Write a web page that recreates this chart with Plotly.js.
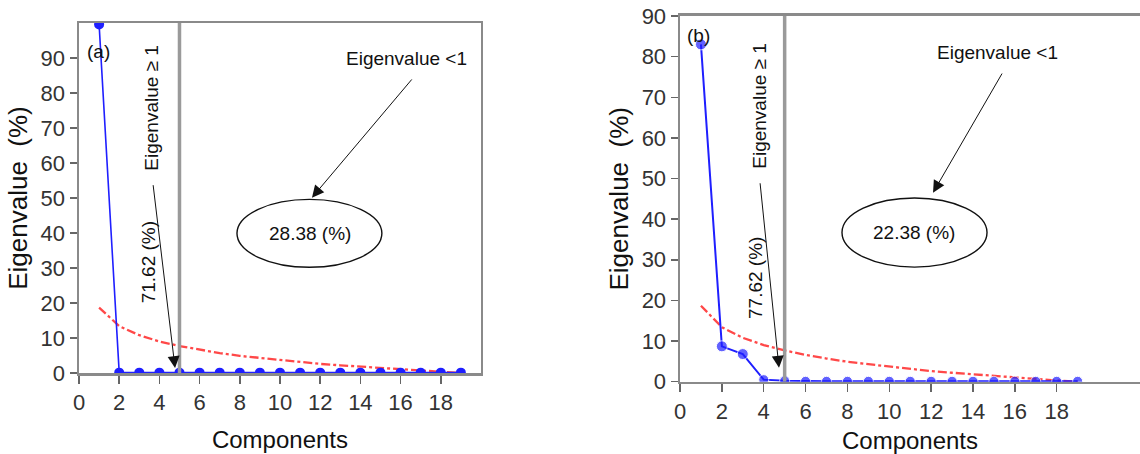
<!DOCTYPE html>
<html>
<head>
<meta charset="utf-8">
<script src="https://cdn.plot.ly/plotly-3.0.1.min.js"></script>
<style>html,body{margin:0;padding:0;background:#fff;}#chart{width:1140px;height:454px;}</style>
</head>
<body>
<div id="chart"></div>
<script>
// Data
const components = [1,2,3,4,5,6,7,8,9,10,11,12,13,14,15,16,17,18,19];
const eigenA = [99.6,0.1,0.1,0.1,0.1,0.1,0.1,0.1,0.1,0.1,0.1,0.1,0.1,0.1,0.1,0.1,0.1,0.1,0.1];
const eigenB = [83.0,8.7,6.8,0.5,0.2,0.1,0.1,0.1,0.1,0.1,0.1,0.1,0.1,0.1,0.1,0.1,0.1,0.1,0.1];
const brokenStick = [18.7,13.4,10.8,9.0,7.7,6.6,5.7,4.9,4.3,3.7,3.1,2.6,2.2,1.8,1.4,1.0,0.6,0.3,0.0];
const xTicks = [0,2,4,6,8,10,12,14,16,18];
const yTicks = [0,10,20,30,40,50,60,70,80,90];
const labelA = {panel:'(a)', kept:'71.62 (%)', dropped:'28.38 (%)'};
const labelB = {panel:'(b)', kept:'77.62 (%)', dropped:'22.38 (%)'};
const cutoff = 5;

const FONT = 'Liberation Sans, Arial, sans-serif';
const BLUE = '#1f1fff';
const RED = 'rgba(255,40,40,0.85)';
const GRAY = '#8a8a8a';

const traces = [
  {x: components, y: brokenStick, xaxis:'x', yaxis:'y', mode:'lines',
   line:{color:RED, width:2.3, dash:'dashdot'}, hoverinfo:'skip'},
  {x: components, y: eigenA, xaxis:'x', yaxis:'y', mode:'lines+markers', cliponaxis:true,
   line:{color:BLUE, width:1.6}, marker:{color:BLUE, size:10}},
  {x: components, y: brokenStick, xaxis:'x2', yaxis:'y2', mode:'lines',
   line:{color:RED, width:2.3, dash:'dashdot'}, hoverinfo:'skip'},
  {x: components, y: eigenB, xaxis:'x2', yaxis:'y2', mode:'lines+markers', cliponaxis:true,
   line:{color:BLUE, width:2},
   marker:{color:BLUE, size: eigenB.map((v,i)=> i<3 ? 11 : 10)}}
];

function xax(domain, range){
  return {domain: domain, range: range, tickvals: xTicks, ticks:'outside', ticklen:8, tickwidth:1.5,
    tickcolor:'#666', showline:true, linecolor:GRAY, linewidth:2.5, mirror:true,
    showgrid:false, zeroline:false, tickfont:{family:FONT, size:22, color:'#333'},
    title:{text:'Components', font:{family:FONT, size:24, color:'#111'}, standoff:18}};
}
function yax(domain, range, anchor, mirror){
  return {domain: domain, range: range, anchor: anchor, tickvals: yTicks, ticks:'outside', ticklen:7, tickwidth:1.5,
    tickcolor:'#666', showline:true, linecolor:GRAY, linewidth:2.5, mirror:mirror,
    showgrid:false, zeroline:false, tickfont:{family:FONT, size:22, color:'#333'},
    title:{text:'Eigenvalue  (%)', font:{family:FONT, size:26, color:'#111'}, standoff:6}};
}

const xa = xax([0.0693, 0.4219], [0, 20]); xa.anchor = 'y';
const xb = xax([0.5965, 1], [0, 21.98]); xb.anchor = 'y2';

function txt(xr, yr, x, y, text, angle){
  return {xref:xr, yref:yr, x:x, y:y, text:text, showarrow:false, textangle:angle||0,
    font:{family:FONT, size:19, color:'#111'}, xanchor:'center', yanchor:'middle'};
}
function arrow(xr, yr, x, y, ax, ay){
  return {xref:xr, yref:yr, axref:xr, ayref:yr, x:x, y:y, ax:ax, ay:ay, text:'',
    showarrow:true, arrowhead:2, arrowsize:2.4, arrowwidth:1, arrowcolor:'#111', standoff:0, startstandoff:0};
}

const annotations = [
  txt('x','y',0.95,92.0,labelA.panel),
  txt('x','y',3.63,75.8,'Eigenvalue ≥ 1',-90),
  txt('x','y',3.43,31.6,labelA.kept,-90),
  arrow('x','y',4.78,1.4,3.68,54.1),
  txt('x','y',16.27,90.0,'Eigenvalue <1'),
  arrow('x','y',11.59,50.1,16.62,84.3),
  txt('x','y',11.49,39.9,labelA.dropped),

  txt('x2','y2',0.86,85.3,labelB.panel),
  txt('x2','y2',3.82,67.9,'Eigenvalue ≥ 1',-90),
  txt('x2','y2',3.58,25.5,labelB.kept,-90),
  arrow('x2','y2',4.73,3.4,3.82,49.2),
  txt('x2','y2',15.15,81.1,'Eigenvalue <1'),
  arrow('x2','y2',12.09,46.5,15.43,76.2),
  txt('x2','y2',11.18,36.6,labelB.dropped)
];

const shapes = [
  {type:'line', xref:'x', yref:'y', x0:cutoff, x1:cutoff, y0:0, y1:101, line:{color:'#9a9a9a', width:3.5}},
  {type:'circle', xref:'x', yref:'y', x0:7.86, x1:15.07, y0:30.2, y1:49.6, line:{color:'#111', width:1.4}},
  {type:'line', xref:'x2', yref:'y2', x0:cutoff, x1:cutoff, y0:0, y1:90, line:{color:'#9a9a9a', width:3.5}},
  {type:'circle', xref:'x2', yref:'y2', x0:7.74, x1:14.67, y0:28.2, y1:45.2, line:{color:'#111', width:1.4}}
];

const layout = {
  width:1140, height:454, margin:{l:0, r:0, t:0, b:0},
  paper_bgcolor:'#fff', plot_bgcolor:'#fff', showlegend:false,
  xaxis: xa, yaxis: yax([0.1784, 0.9493], [0, 100], 'x', true),
  xaxis2: xb, yaxis2: yax([0.1593, 0.9648], [0, 90], 'x2', false),
  annotations: annotations, shapes: shapes
};

Plotly.newPlot('chart', traces, layout, {staticPlot:true, displayModeBar:false});
</script>
</body>
</html>
